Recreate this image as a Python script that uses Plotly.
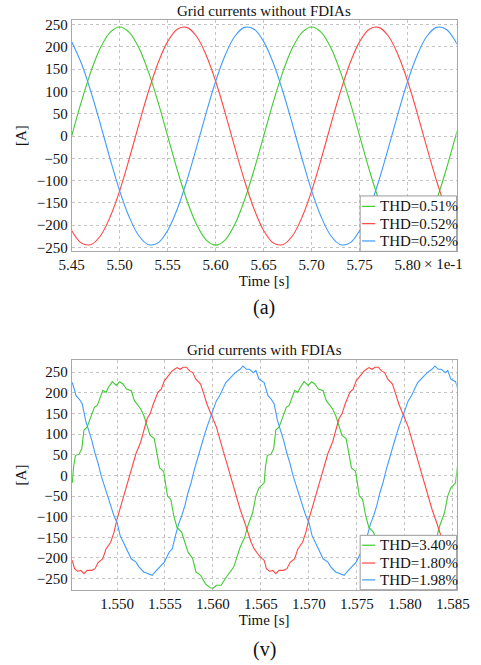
import plotly.graph_objects as go

# ---------------- data: top panel (without FDIAs) ----------------
t_top = [0.545, 0.546, 0.547, 0.548, 0.549, 0.550, 0.551, 0.552, 0.553, 0.554,
         0.555, 0.556, 0.557, 0.558, 0.559, 0.560, 0.561, 0.562, 0.563, 0.564,
         0.565, 0.566, 0.567, 0.568, 0.569, 0.570, 0.571, 0.572, 0.573, 0.574,
         0.575, 0.576, 0.577, 0.578, 0.579, 0.580, 0.581, 0.582, 0.583, 0.584,
         0.585, 0.586]
ia_top = [0, 76, 144, 198, 233, 245, 233, 198, 144, 76,
          0, -76, -144, -198, -233, -245, -233, -198, -144, -76,
          0, 76, 144, 198, 233, 245, 233, 198, 144, 76,
          0, -76, -144, -198, -233, -245, -233, -198, -144, -76,
          0, 76]
ib_top = [-212, -240, -244, -224, -182, -123, -51, 26, 100, 164,
          212, 240, 244, 224, 182, 123, 51, -26, -100, -164,
          -212, -240, -244, -224, -182, -123, -51, 26, 100, 164,
          212, 240, 244, 224, 182, 123, 51, -26, -100, -164,
          -212, -240]
ic_top = [212, 164, 100, 26, -51, -123, -182, -224, -244, -240,
          -212, -164, -100, -26, 51, 123, 182, 224, 244, 240,
          212, 164, 100, 26, -51, -123, -182, -224, -244, -240,
          -212, -164, -100, -26, 51, 123, 182, 224, 244, 240,
          212, 164]
top_ticks = [0.545, 0.550, 0.555, 0.560, 0.565, 0.570, 0.575, 0.580]
top_tick_text = ["5.45", "5.50", "5.55", "5.60", "5.65", "5.70", "5.75", "5.80"]
thd_top = ["THD=0.51%", "THD=0.52%", "THD=0.52%"]

# ---------------- data: bottom panel (with FDIAs) ----------------
t_ga = [1.54534, 1.54547, 1.54566, 1.54606, 1.54633, 1.54655, 1.54688, 1.54721, 1.54764, 1.54796,
        1.54820, 1.54852, 1.54885, 1.54909, 1.54951, 1.54993, 1.55027, 1.55059, 1.55099, 1.55148,
        1.55181, 1.55247, 1.55279, 1.55313, 1.55345, 1.55388, 1.55421, 1.55444, 1.55486, 1.55526,
        1.55560, 1.55592, 1.55625, 1.55674, 1.55707, 1.55740, 1.55789, 1.55822, 1.55871, 1.55920,
        1.55970, 1.56003, 1.56036, 1.56085, 1.56134, 1.56183, 1.56216, 1.56250, 1.56283, 1.56331,
        1.56364, 1.56414, 1.56447, 1.56480,
        1.56534, 1.56547, 1.56566, 1.56606, 1.56633, 1.56655, 1.56688, 1.56721, 1.56764, 1.56796,
        1.56820, 1.56852, 1.56885, 1.56909, 1.56951, 1.56993, 1.57027, 1.57059, 1.57099, 1.57148,
        1.57181, 1.57247, 1.57279, 1.57313, 1.57345, 1.57388, 1.57421, 1.57444, 1.57486, 1.57526,
        1.57560, 1.57592, 1.57625, 1.57674, 1.57707, 1.57740, 1.57789, 1.57822, 1.57871, 1.57920,
        1.57970, 1.58003, 1.58036, 1.58085, 1.58134, 1.58183, 1.58216, 1.58250, 1.58283, 1.58331,
        1.58364, 1.58414, 1.58447, 1.58480, 1.58529, 1.58547]
ia_bot = [-18, 21, 48, 52, 65, 110, 117, 137, 165, 170,
          185, 206, 201, 213, 227, 218, 227, 222, 209, 205,
          181, 161, 145, 117, 97, 89, 50, 18, 10, -50,
          -58, -98, -126, -138, -162, -186, -202, -234, -242, -262,
          -272, -273, -266, -266, -248, -234, -222, -198, -174, -150,
          -122, -90, -50, -30,
          -18, 21, 48, 52, 65, 110, 117, 137, 165, 170,
          185, 206, 201, 213, 227, 218, 227, 222, 209, 205,
          181, 161, 145, 117, 97, 89, 50, 18, 10, -50,
          -58, -98, -126, -138, -162, -186, -202, -234, -242, -262,
          -272, -273, -266, -266, -248, -234, -222, -198, -174, -150,
          -122, -90, -50, -30, -18, 21]

t_rb = [1.54534, 1.54557, 1.54589, 1.54623, 1.54655, 1.54688, 1.54737, 1.54771, 1.54803, 1.54852,
        1.54885, 1.54934, 1.54968, 1.55000, 1.55050, 1.55099, 1.55148, 1.55198, 1.55247, 1.55279,
        1.55313, 1.55345, 1.55378, 1.55427, 1.55461, 1.55493, 1.55543, 1.55575, 1.55625, 1.55658,
        1.55690, 1.55723, 1.55757, 1.55789, 1.55822, 1.55871, 1.55905, 1.55937, 1.55986, 1.56036,
        1.56085, 1.56134, 1.56183, 1.56233, 1.56283, 1.56331, 1.56364, 1.56398, 1.56430, 1.56480,
        1.56534, 1.56557, 1.56589, 1.56623, 1.56655, 1.56688, 1.56737, 1.56771, 1.56803, 1.56852,
        1.56885, 1.56934, 1.56968, 1.57000, 1.57050, 1.57099, 1.57148, 1.57198, 1.57247, 1.57279,
        1.57313, 1.57345, 1.57378, 1.57427, 1.57461, 1.57493, 1.57543, 1.57575, 1.57625, 1.57658,
        1.57690, 1.57723, 1.57757, 1.57789, 1.57822, 1.57871, 1.57905, 1.57937, 1.57986, 1.58036,
        1.58085, 1.58134, 1.58183, 1.58233, 1.58283, 1.58331, 1.58364, 1.58398, 1.58430, 1.58480,
        1.58529, 1.58557]
ib_bot = [-206, -226, -232, -230, -238, -230, -230, -226, -211, -202,
          -178, -162, -138, -106, -66, -26, 14, 53, 81, 109,
          137, 149, 173, 201, 209, 229, 245, 253, 261, 257,
          262, 262, 253, 249, 233, 221, 197, 173, 145, 117,
          77, 38, -6, -46, -82, -114, -138, -162, -178, -194,
          -206, -226, -232, -230, -238, -230, -230, -226, -211, -202,
          -178, -162, -138, -106, -66, -26, 14, 53, 81, 109,
          137, 149, 173, 201, 209, 229, 245, 253, 261, 257,
          262, 262, 253, 249, 233, 221, 197, 173, 145, 117,
          77, 38, -6, -46, -82, -114, -138, -162, -178, -194,
          -203, -226]

t_cb = [1.54534, 1.54573, 1.54606, 1.54638, 1.54672, 1.54704, 1.54737, 1.54771, 1.54803, 1.54836,
        1.54869, 1.54902, 1.54934, 1.54968, 1.55000, 1.55033, 1.55066, 1.55099, 1.55148, 1.55198,
        1.55230, 1.55279, 1.55329, 1.55368, 1.55395, 1.55427, 1.55461, 1.55493, 1.55543, 1.55575,
        1.55609, 1.55641, 1.55674, 1.55707, 1.55740, 1.55772, 1.55806, 1.55838, 1.55871, 1.55905,
        1.55937, 1.55970, 1.56003, 1.56036, 1.56069, 1.56102, 1.56134, 1.56183, 1.56233, 1.56283,
        1.56313, 1.56349, 1.56381, 1.56420, 1.56447, 1.56480,
        1.56534, 1.56573, 1.56606, 1.56638, 1.56672, 1.56704, 1.56737, 1.56771, 1.56803, 1.56836,
        1.56869, 1.56902, 1.56934, 1.56968, 1.57000, 1.57033, 1.57066, 1.57099, 1.57148, 1.57198,
        1.57230, 1.57279, 1.57329, 1.57368, 1.57395, 1.57427, 1.57461, 1.57493, 1.57543, 1.57575,
        1.57609, 1.57641, 1.57674, 1.57707, 1.57740, 1.57772, 1.57806, 1.57838, 1.57871, 1.57905,
        1.57937, 1.57970, 1.58003, 1.58036, 1.58069, 1.58102, 1.58134, 1.58183, 1.58233, 1.58283,
        1.58313, 1.58349, 1.58381, 1.58420, 1.58447, 1.58480, 1.58529, 1.58573]
ic_bot = [225, 193, 185, 173, 133, 109, 85, 53, 29, -2,
          -26, -50, -74, -98, -114, -146, -162, -178, -202, -210,
          -222, -234, -238, -242, -234, -226, -219, -210, -186, -178,
          -146, -118, -98, -74, -42, -18, 14, 41, 69, 93,
          117, 137, 157, 181, 193, 209, 225, 237, 249, 257,
          265, 257, 257, 249, 254, 233,
          225, 193, 185, 173, 133, 109, 85, 53, 29, -2,
          -26, -50, -74, -98, -114, -146, -162, -178, -202, -210,
          -222, -234, -238, -242, -234, -226, -219, -210, -186, -178,
          -146, -118, -98, -74, -42, -18, 14, 41, 69, 93,
          117, 137, 157, 181, 193, 209, 225, 237, 249, 257,
          265, 257, 257, 249, 254, 233, 227, 193]
bot_ticks = [1.550, 1.555, 1.560, 1.565, 1.570, 1.575, 1.580, 1.585]
thd_bot = ["THD=3.40%", "THD=1.80%", "THD=1.98%"]

y_ticks = [-250, -200, -150, -100, -50, 0, 50, 100, 150, 200, 250]

# ---------------- styling ----------------
FONT = "Liberation Serif"
GREEN = "#3fcc2e"
RED = "#ff4646"
BLUE = "#3f9bff"
COLORS = [GREEN, RED, BLUE]
GRID = "#c4c4c4"
FRAME = "#a8a8a8"
TXT = "#111111"

fig = go.Figure()

for y_vals, name, col in zip([ia_top, ib_top, ic_top], thd_top, COLORS):
    fig.add_trace(go.Scatter(x=t_top, y=y_vals, mode="lines", name=name,
                             line=dict(color=col, width=1.1, shape="spline"),
                             xaxis="x", yaxis="y", showlegend=False))

for tt, y_vals, name, col in zip([t_ga, t_rb, t_cb], [ia_bot, ib_bot, ic_bot], thd_bot, COLORS):
    fig.add_trace(go.Scatter(x=tt, y=y_vals, mode="lines", name=name,
                             line=dict(color=col, width=1.1),
                             xaxis="x2", yaxis="y2", showlegend=False))

W, H = 481, 665
xd = [62 / W, 469 / W]
yd_top = [1 - 251 / H, 1 - 17 / H]
yd_bot = [1 - 593 / H, 1 - 361 / H]

axis_common = dict(showgrid=True, gridcolor=GRID, griddash="dot", gridwidth=1,
                   showline=True, linecolor=FRAME, linewidth=1, mirror=True,
                   zeroline=False, ticks="", ticklabeloverflow="allow",
                   tickfont=dict(family=FONT, size=15, color=TXT))

fig.update_layout(
    width=W, height=H,
    margin=dict(l=0, r=0, t=0, b=0),
    paper_bgcolor="white", plot_bgcolor="white",
    font=dict(family=FONT, size=15, color=TXT),
    showlegend=False,
    xaxis=dict(domain=xd, anchor="y", range=[0.545, 0.5851],
               tickmode="array", tickvals=top_ticks, ticktext=top_tick_text,
               title=dict(text="Time [s]", font=dict(family=FONT, size=15, color=TXT), standoff=3),
               **axis_common),
    yaxis=dict(domain=yd_top, anchor="x", range=[-259, 261],
               tickmode="array", tickvals=y_ticks,
               title=dict(text="[A]", font=dict(family=FONT, size=15, color=TXT), standoff=6),
               **axis_common),
    xaxis2=dict(domain=xd, anchor="y2", range=[1.54527, 1.5854],
                tickmode="array", tickvals=bot_ticks, tickformat=".3f",
                title=dict(text="Time [s]", font=dict(family=FONT, size=15, color=TXT), standoff=3),
                **axis_common),
    yaxis2=dict(domain=yd_bot, anchor="x2", range=[-277, 279],
                tickmode="array", tickvals=y_ticks,
                title=dict(text="[A]", font=dict(family=FONT, size=15, color=TXT), standoff=6),
                **axis_common),
)

annots = [
    dict(text="Grid currents without FDIAs", x=(62 + 469) / 2 / W, y=1 - 8 / H),
    dict(text="Grid currents with FDIAs", x=(62 + 469) / 2 / W, y=1 - 351 / H),
    dict(text="(a)", x=(62 + 469) / 2 / W, y=1 - 308 / H, size=20),
    dict(text="(v)", x=(62 + 469) / 2 / W, y=1 - 653 / H, size=20),
]
for a in annots:
    fig.add_annotation(xref="paper", yref="paper", x=a["x"], y=a["y"], text=a["text"],
                       showarrow=False, xanchor="center", yanchor="middle",
                       font=dict(family=FONT, size=a.get("size", 15), color=TXT))
fig.add_annotation(xref="paper", yref="paper", x=432 / W, y=1 - 264 / H, text="× 1e-1",
                   showarrow=False, xanchor="left", yanchor="middle",
                   font=dict(family=FONT, size=15, color=TXT))

# ---------------- legends (boxed, bottom-right of each panel) ----------------
def add_legend(labels, box_top, box_bottom, rows):
    fig.add_shape(type="rect", xref="paper", yref="paper", layer="above",
                  x0=367 / W, x1=469 / W, y0=1 - box_bottom / H, y1=1 - box_top / H,
                  fillcolor="white", line=dict(color="#9a9a9a", width=1))
    for lab, col, ry in zip(labels, COLORS, rows):
        fig.add_shape(type="line", xref="paper", yref="paper", layer="above",
                      x0=369 / W, x1=383 / W, y0=1 - ry / H, y1=1 - ry / H,
                      line=dict(color=col, width=1.2))
        fig.add_annotation(xref="paper", yref="paper", x=386 / W, y=1 - ry / H, text=lab,
                           showarrow=False, xanchor="left", yanchor="middle",
                           font=dict(family=FONT, size=15, color=TXT))

add_legend(thd_top, 195, 251, [205.5, 223, 240.5])
add_legend(thd_bot, 538, 593, [548, 566, 583])

fig.write_html("out.html")
